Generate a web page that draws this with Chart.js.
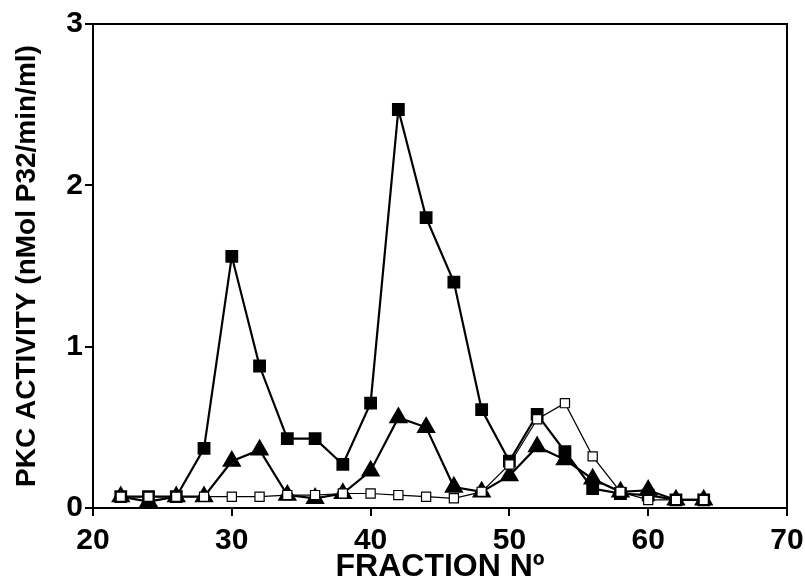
<!DOCTYPE html>
<html>
<head>
<meta charset="utf-8">
<script src="https://cdn.jsdelivr.net/npm/chart.js@4"></script>
<style>
  html, body { margin: 0; padding: 0; background: #fff; }
  #wrap { width: 805px; height: 583px; }
</style>
</head>
<body>
<div id="wrap"><canvas id="pkcChart" width="805" height="583"></canvas></div>
<script>
"use strict";

// fractions shared by all three series
var fractions = [22, 24, 26, 28, 30, 32, 34, 36, 38, 40, 42, 44, 46, 48, 50, 52, 54, 56, 58, 60, 62, 64];

// filled squares
var filledSquares = [0.07, 0.07, 0.07, 0.37, 1.56, 0.88, 0.43, 0.43, 0.27, 0.65, 2.47, 1.80, 1.40, 0.61, 0.29, 0.58, 0.35, 0.12, 0.09, 0.08, 0.05, 0.05];
// filled triangles
var triangles = [0.07, 0.04, 0.07, 0.07, 0.29, 0.36, 0.08, 0.06, 0.09, 0.23, 0.56, 0.50, 0.13, 0.10, 0.20, 0.38, 0.30, 0.18, 0.10, 0.11, 0.05, 0.05];
// open squares
var openSquares = [0.07, 0.07, 0.07, 0.07, 0.07, 0.07, 0.08, 0.08, 0.09, 0.09, 0.08, 0.07, 0.06, 0.10, 0.27, 0.55, 0.65, 0.32, 0.10, 0.05, 0.05, 0.05];

var xTicks = [20, 30, 40, 50, 60, 70];
var yTicks = [0, 1, 2, 3];

function pts(values) {
    return fractions.map(function (f, i) { return { x: f, y: values[i] }; });
}

// box round the plot area
var frame = {
    id: 'frame',
    afterDraw: function (chart) {
        var a = chart.chartArea, c = chart.ctx;
        c.save();
        c.strokeStyle = '#000';
        c.lineWidth = 2;
        c.strokeRect(a.left, a.top, a.right - a.left, a.bottom - a.top);
        c.restore();
    }
};

var tickFont = { family: 'Liberation Sans', size: 30, weight: 'bold', lineHeight: 1 };

var ctx = document.getElementById("pkcChart").getContext("2d");
new Chart(ctx, {
    type: 'line',
    data: {
        datasets: [{
            label: 'open',
            data: pts(openSquares),
            borderColor: '#000',
            borderWidth: 1.2,
            pointStyle: 'rect',
            pointRadius: 6.5,
            pointBackgroundColor: '#fff',
            pointBorderColor: '#000',
            pointBorderWidth: 1.2,
            tension: 0
        }, {
            label: 'triangles',
            data: pts(triangles),
            borderColor: '#000',
            borderWidth: 2.2,
            pointStyle: 'triangle',
            pointRadius: 9,
            pointBackgroundColor: '#000',
            pointBorderColor: '#000',
            tension: 0
        }, {
            label: 'filled',
            data: pts(filledSquares),
            borderColor: '#000',
            borderWidth: 2.2,
            pointStyle: 'rect',
            pointRadius: 7.5,
            pointBackgroundColor: '#000',
            pointBorderColor: '#000',
            tension: 0
        }]
    },
    options: {
        responsive: false,
        animation: false,
        layout: { padding: { left: 0, right: 18, top: 24, bottom: 0 } },
        plugins: { legend: { display: false }, tooltip: { enabled: false } },
        scales: {
            x: {
                type: 'linear',
                min: 20,
                max: 70,
                afterBuildTicks: function (s) { s.ticks = xTicks.map(function (v) { return { value: v }; }); },
                afterFit: function (s) { s.height = 75; s.paddingRight = 0; s.paddingLeft = 0; },
                grid: { drawOnChartArea: false, drawTicks: true, tickLength: 8, color: '#000', lineWidth: 2 },
                border: { color: '#000', width: 2 },
                ticks: { color: '#000', font: tickFont, padding: 10, maxRotation: 0 },
                title: {
                    display: true,
                    text: 'FRACTION Nº',
                    color: '#000',
                    font: { family: 'Liberation Sans', size: 32, weight: 'bold', lineHeight: 1 },
                    padding: { top: 0, bottom: 0 }
                }
            },
            y: {
                min: 0,
                max: 3,
                afterBuildTicks: function (s) { s.ticks = yTicks.map(function (v) { return { value: v }; }); },
                afterFit: function (s) { s.width = 93; s.paddingTop = 0; s.paddingBottom = 0; },
                grid: { drawOnChartArea: false, drawTicks: true, tickLength: 8, color: '#000', lineWidth: 2 },
                border: { color: '#000', width: 2 },
                ticks: { color: '#000', font: tickFont, padding: 2 },
                title: {
                    display: true,
                    text: 'PKC ACTIVITY (nMol P32/min/ml)',
                    color: '#000',
                    font: { family: 'Liberation Sans', size: 28, weight: 'bold', lineHeight: 1 },
                    padding: { top: 13, bottom: 0 }
                }
            }
        }
    },
    plugins: [frame]
});
</script>
</body>
</html>
